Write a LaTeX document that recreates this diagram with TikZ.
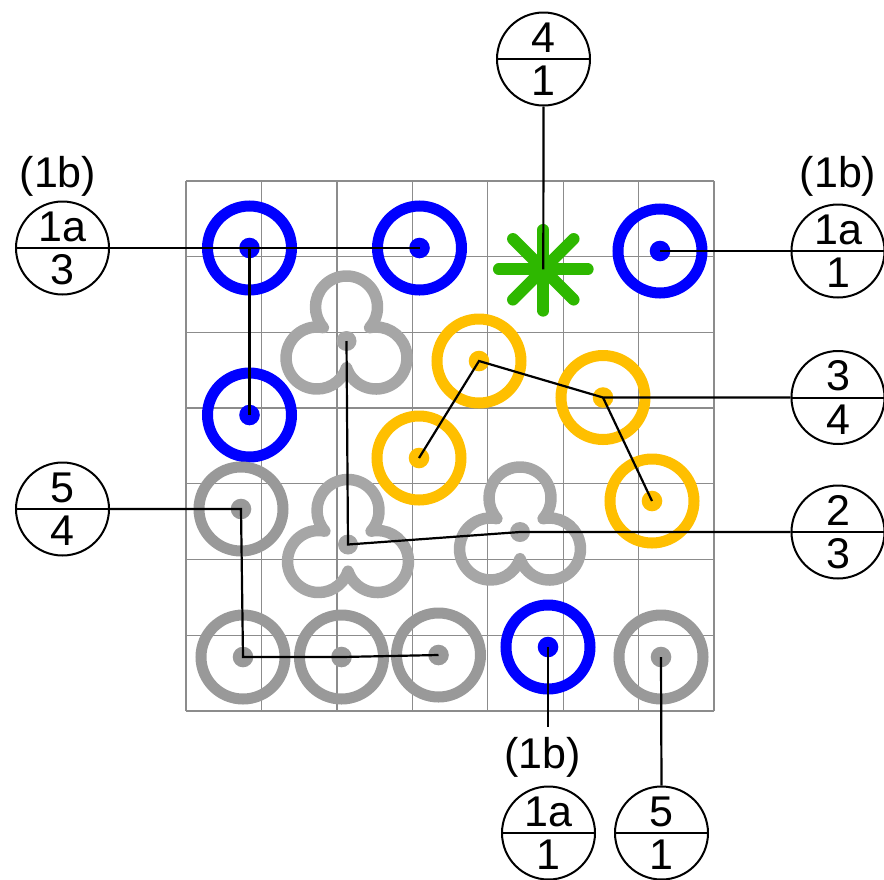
\documentclass[tikz,border=0pt]{standalone}
\usepackage{fontspec}
\setmainfont{Liberation Sans}
\definecolor{ringblue}{RGB}{0,0,255}
\definecolor{ringorange}{RGB}{255,191,0}
\definecolor{ringgray}{RGB}{153,153,153}
\definecolor{trigray}{RGB}{166,166,166}
\definecolor{astgreen}{RGB}{46,184,0}
\definecolor{gridgray}{RGB}{140,140,140}
\begin{document}
\begin{tikzpicture}[x=1pt,y=1pt,
  ring/.style={circle, draw=#1, line width=11pt, minimum size=84pt, inner sep=0pt},
  conn/.style={draw=black, line width=2.2pt},
  lbl/.style={circle, draw=black, line width=2pt, minimum size=93pt, inner sep=0pt},
  num/.style={font=\fontsize{43}{50}\selectfont, inner sep=0pt},
  bnote/.style={font=\fontsize{43}{50}\selectfont, inner xsep=0pt, inner ysep=10pt},
  trefoil/.pic={
    \draw[trigray, line width=11.5pt, line join=round]
      (23.11,13.34) arc[start angle=-41.8, end angle=221.8, radius=31]
      arc[start angle=78.2, end angle=341.8, radius=31]
      arc[start angle=198.2, end angle=461.8, radius=31] -- cycle;
    \fill[trigray] (0,0) circle[radius=10];
    \coordinate (-c) at (0,0);
  }
]
\useasboundingbox (0,0) rectangle (884,-879);
% grid
\foreach \i in {0,...,7} {
  \draw[gridgray, line width=1.3pt] ({186+\i*75.43},-181) -- ({186+\i*75.43},-711);
  \draw[gridgray, line width=1.3pt] (186,{-181-\i*75.71}) -- (714,{-181-\i*75.71});
}
% blue rings
\node[ring=ringblue] (b1) at (249.5,-248) {};
\node[ring=ringblue] (b2) at (419.5,-248) {};
\node[ring=ringblue] (b3) at (249.5,-415) {};
\node[ring=ringblue] (b4) at (660,-251) {};
\node[ring=ringblue] (b5) at (548,-647) {};
\foreach \n in {b1,b2,b3,b4,b5} \fill[ringblue] (\n.center) circle[radius=10.3];
% orange rings
\node[ring=ringorange] (o1) at (479,-361) {};
\node[ring=ringorange] (o2) at (603,-397.5) {};
\node[ring=ringorange] (o3) at (419,-458) {};
\node[ring=ringorange] (o4) at (652,-501) {};
\foreach \n in {o1,o2,o3,o4} \fill[ringorange] (\n.center) circle[radius=10.3];
% gray rings
\node[ring=ringgray] (g1) at (241,-509) {};
\node[ring=ringgray] (g2) at (243,-657) {};
\node[ring=ringgray] (g3) at (341.5,-657) {};
\node[ring=ringgray] (g4) at (438.5,-655) {};
\node[ring=ringgray] (g5) at (661,-657) {};
\foreach \n in {g1,g2,g3,g4,g5} \fill[ringgray] (\n.center) circle[radius=10.3];
% trefoils
\pic (t1) at (346.5,-341) {trefoil};
\pic (t2) at (348,-544.5) {trefoil};
\pic (t3) at (520,-532) {trefoil};
% asterisk
\coordinate (ast) at (543.3,-269.3);
\foreach \a/\l in {0/44.5,45/43,90/39.5,135/43,180/44.5,225/43,270/41.5,315/43}
  \draw[astgreen, line width=11.7pt, line cap=round] (ast) -- ++(\a:\l);
% label circles
\node[lbl] (LA) at (62.5,-248) {};
\node[lbl] (LB) at (838,-251) {};
\node[lbl] (LC) at (543.5,-59) {};
\node[lbl] (LD) at (838,-397.5) {};
\node[lbl] (LE) at (838,-532) {};
\node[lbl] (LF) at (62.5,-509) {};
\node[lbl] (LG) at (548.5,-833) {};
\node[lbl] (LH) at (661.5,-833) {};
\foreach \n/\t/\b in {LA/1a/3, LB/1a/1, LC/4/1, LD/3/4, LE/2/3, LF/5/4, LG/1a/1, LH/5/1} {
  \draw[line width=2pt] (\n.west) -- (\n.east);
  \node[num] (\n-top) at ([yshift=21.5pt]\n.center) {\t};
  \node[num] (\n-bot) at ([yshift=-22pt]\n.center) {\b};
}
\node[bnote] (LAb) at (58,-176) {(1b)};
\node[bnote] (LBb) at (838,-176) {(1b)};
\node[bnote] (LGb) at (542.5,-757) {(1b)};
% connectors
\draw[conn] (LA.east) -- (b1.center) -- (b2.center);
\draw[conn] (b1.center) -- (b3.center);
\draw[conn] (b4.center) -- (LB.west);
\draw[conn] (LC.south) -- (ast);
\draw[conn] (LD.west) -- (o2.center) -- (o1.center) -- (o3.center);
\draw[conn] (o2.center) -- (o4.center);
\draw[conn] (LE.west) -- (t3-c) -- (t2-c) -- (t1-c);
\draw[conn] (LF.east) -- (g1.center) -- (g2.center) -- (g3.center) -- (g4.center);
\draw[conn] (b5.center) -- (b5.center |- LGb.north);
\draw[conn] (g5.center) -- (LH.north);
\end{tikzpicture}
\end{document}
